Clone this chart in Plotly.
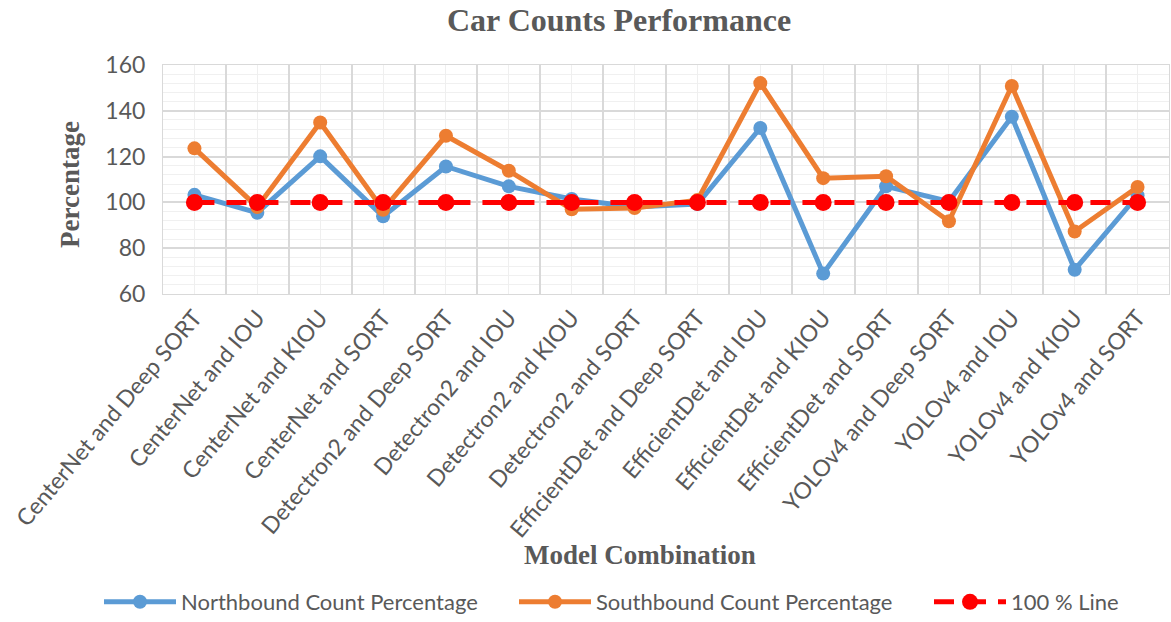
import plotly.graph_objects as go

categories = [
    "CenterNet and Deep SORT", "CenterNet and IOU", "CenterNet and KIOU", "CenterNet and SORT",
    "Detectron2 and Deep SORT", "Detectron2 and IOU", "Detectron2 and KIOU", "Detectron2 and SORT",
    "EfficientDet and Deep SORT", "EfficientDet and IOU", "EfficientDet and KIOU", "EfficientDet and SORT",
    "YOLOv4 and Deep SORT", "YOLOv4 and IOU", "YOLOv4 and KIOU", "YOLOv4 and SORT",
]
northbound = [103.3, 95.5, 120.1, 93.9, 115.7, 107.0, 101.5, 98.0,
              99.3, 132.5, 68.9, 107.0, 100.4, 137.4, 70.6, 103.0]
southbound = [123.6, 98.0, 134.9, 96.8, 129.1, 113.8, 97.0, 97.5,
              101.0, 152.1, 110.6, 111.4, 91.8, 150.8, 87.3, 106.7]
line100 = [100] * len(categories)

grey = "#595959"
sans = "Lato, 'Open Sans', sans-serif"
serif = "'Liberation Serif', 'Times New Roman', serif"

fig = go.Figure()
fig.add_trace(go.Scatter(
    x=categories, y=northbound, name="Northbound Count Percentage", legend="legend",
    mode="lines+markers", line=dict(color="#5B9BD5", width=5),
    marker=dict(color="#5B9BD5", size=14)))
fig.add_trace(go.Scatter(
    x=categories, y=southbound, name="Southbound Count Percentage", legend="legend2",
    mode="lines+markers", line=dict(color="#ED7D31", width=5),
    marker=dict(color="#ED7D31", size=14)))
fig.add_trace(go.Scatter(
    x=categories, y=line100, name="100 % Line", legend="legend3",
    mode="lines+markers", line=dict(color="#FF0000", width=5, dash="20px,12px"),
    marker=dict(color="#FF0000", size=17)))
# invisible trace to drive secondary category axis (boundary gridlines)
fig.add_trace(go.Scatter(x=categories, y=line100, xaxis="x2", mode="none",
                         showlegend=False, hoverinfo="skip"))

legend_common = dict(orientation="h", xref="container", yref="container",
                     xanchor="left", y=20 / 622, yanchor="middle",
                     font=dict(family=sans, size=22, color=grey),
                     itemwidth=72, bgcolor="rgba(0,0,0,0)")

fig.update_layout(
    width=1171, height=622,
    paper_bgcolor="white", plot_bgcolor="white",
    margin=dict(l=163, r=2, t=65, b=328),
    title=dict(text="<b>Car Counts Performance</b>", x=619 / 1171, xanchor="center",
               y=0.968, yanchor="middle",
               font=dict(family=serif, size=32, color=grey)),
    xaxis=dict(
        type="category", tickangle=-50, showgrid=True, gridcolor="#efefef", gridwidth=1,
        tickfont=dict(family=sans, size=23, color=grey), ticks="",
        showline=True, linecolor="#d9d9d9", linewidth=1, mirror=True,
        automargin=False, range=[-0.5, 15.5],
    ),
    xaxis2=dict(
        type="category", overlaying="x", tickson="boundaries", showgrid=True,
        gridcolor="#d9d9d9", gridwidth=2, showticklabels=False, ticks="",
        range=[-0.5, 15.5], matches="x", automargin=False,
    ),
    yaxis=dict(
        range=[60, 160], dtick=20, tick0=60, showgrid=True, gridcolor="#d9d9d9", gridwidth=2,
        tickfont=dict(family=sans, size=23, color=grey), ticks="", ticklabelstandoff=12,
        showline=True, linecolor="#d9d9d9", linewidth=1, mirror=True,
        minor=dict(dtick=4, showgrid=True, gridcolor="#f0f0f0", gridwidth=1),
        zeroline=False, automargin=False,
    ),
    annotations=[
        dict(text="<b>Model Combination</b>", xref="paper", yref="paper",
             x=0.474, y=-1.14, xanchor="center", yanchor="middle", showarrow=False,
             font=dict(family=serif, size=27, color=grey)),
        dict(text="<b>Percentage</b>", xref="paper", yref="paper",
             x=-0.0924, y=0.476, xanchor="center", yanchor="middle", showarrow=False,
             textangle=-90, font=dict(family=serif, size=27, color=grey)),
    ],
    legend=dict(x=99 / 1171, **legend_common),
    legend2=dict(x=514 / 1171, **legend_common),
    legend3=dict(x=929 / 1171, **legend_common),
)

fig.write_html("out.html", config={"displayModeBar": False},
               post_script="document.body.style.margin='0';")
